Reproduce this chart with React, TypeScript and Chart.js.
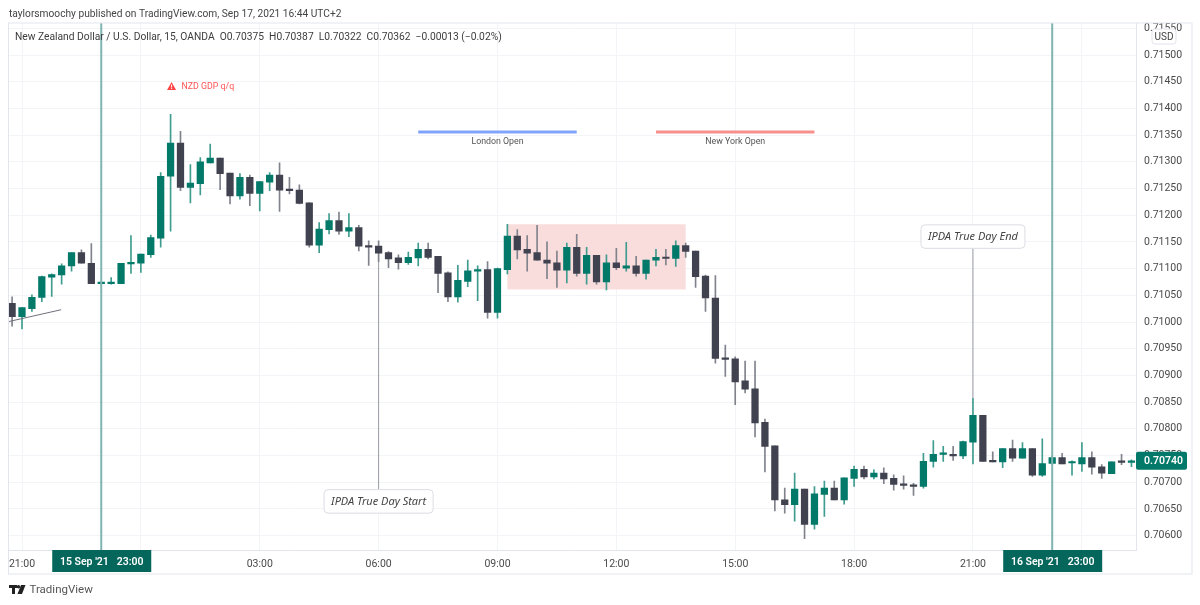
import React, { useEffect, useRef } from "react";
import { Chart, registerables } from "chart.js";

Chart.register(...registerables);

const opens = [0.71035,0.7101,0.71025,0.71046,0.71084,0.71088,0.71105,0.7113,0.7111,0.71072,0.71072,0.71072,0.71109,0.7111,0.71126,0.71157,0.71273,0.71335,0.71252,0.71259,0.71298,0.71307,0.71279,0.71236,0.71271,0.71241,0.71262,0.71275,0.71248,0.71247,0.71223,0.71144,0.71173,0.7119,0.7117,0.71177,0.71143,0.71142,0.7113,0.7112,0.71111,0.7112,0.71136,0.71123,0.71092,0.71047,0.71076,0.71095,0.71098,0.71018,0.71098,0.71161,0.71136,0.7113,0.71116,0.71111,0.71097,0.7114,0.71091,0.71125,0.71075,0.71111,0.71101,0.71105,0.71091,0.71116,0.71121,0.71119,0.71143,0.71133,0.71086,0.71045,0.70933,0.70931,0.7089,0.70875,0.70812,0.70768,0.70667,0.70658,0.70687,0.70621,0.70677,0.70689,0.70667,0.70707,0.70724,0.7071,0.70717,0.70707,0.70697,0.70695,0.70692,0.70739,0.70752,0.70752,0.70749,0.70775,0.70825,0.70741,0.70738,0.70763,0.70745,0.70763,0.70713,0.70735,0.70746,0.70736,0.70734,0.70746,0.70729,0.70716,0.70739,0.70737];
const highs = [0.71047,0.71027,0.71051,0.71086,0.7109,0.71109,0.7113,0.71135,0.71147,0.71074,0.71083,0.7111,0.71162,0.71127,0.71163,0.7128,0.71389,0.71357,0.71295,0.71308,0.71333,0.71307,0.71279,0.71278,0.71275,0.71263,0.7128,0.71298,0.71271,0.71257,0.71223,0.71186,0.71203,0.71206,0.71203,0.71181,0.71152,0.71152,0.71132,0.71126,0.71131,0.71148,0.71148,0.71123,0.71094,0.71106,0.71116,0.71105,0.71113,0.71101,0.71183,0.71173,0.71162,0.71181,0.7115,0.71133,0.71148,0.71164,0.7114,0.71125,0.71126,0.71138,0.71149,0.71123,0.71116,0.71136,0.71136,0.71152,0.71148,0.71133,0.71088,0.71087,0.70957,0.70935,0.70927,0.70927,0.70818,0.70768,0.70689,0.70717,0.70687,0.70692,0.70702,0.70702,0.70708,0.7073,0.7073,0.70723,0.70727,0.70714,0.70712,0.70698,0.70754,0.70778,0.70767,0.70767,0.70777,0.70857,0.70825,0.70757,0.70763,0.70779,0.70774,0.70763,0.70781,0.70748,0.70754,0.7074,0.70774,0.70757,0.70733,0.70738,0.70752,0.70742];
const lows = [0.70992,0.70987,0.7102,0.71038,0.71048,0.71071,0.71095,0.7111,0.71072,0.71071,0.71071,0.71072,0.71091,0.71093,0.71121,0.7114,0.7117,0.71246,0.71223,0.71238,0.71298,0.71248,0.71221,0.7123,0.71218,0.71208,0.71246,0.71207,0.7124,0.71221,0.7114,0.7113,0.71165,0.71164,0.7116,0.71133,0.71106,0.71113,0.71102,0.71099,0.71108,0.71105,0.71118,0.71055,0.71038,0.71037,0.71066,0.7104,0.71007,0.71007,0.7109,0.71118,0.71095,0.71116,0.71081,0.71065,0.71073,0.71086,0.71071,0.71071,0.7106,0.71098,0.71095,0.71086,0.7108,0.71105,0.71107,0.71104,0.71121,0.71065,0.7102,0.70923,0.70898,0.70845,0.70867,0.70785,0.70719,0.70646,0.70642,0.70627,0.70594,0.70612,0.70636,0.70667,0.70659,0.70692,0.70706,0.70706,0.70697,0.70685,0.70687,0.70675,0.70689,0.70728,0.70739,0.70741,0.70744,0.70734,0.70739,0.70738,0.70727,0.70739,0.70745,0.70711,0.70711,0.70733,0.70734,0.70713,0.7072,0.70715,0.70707,0.70716,0.70733,0.70729];
const closes = [0.7101,0.71027,0.71046,0.71085,0.71089,0.71105,0.7113,0.7111,0.71072,0.71073,0.71073,0.7111,0.71112,0.71127,0.71158,0.71273,0.71335,0.71252,0.7126,0.713,0.71307,0.71278,0.71236,0.71271,0.71241,0.71263,0.71275,0.71247,0.71246,0.71222,0.71144,0.71174,0.7119,0.7117,0.71177,0.71142,0.7114,0.71129,0.71118,0.71111,0.71121,0.71136,0.71121,0.71091,0.71047,0.71078,0.71096,0.71098,0.71018,0.711,0.71161,0.71135,0.71129,0.71116,0.7111,0.71097,0.7114,0.71091,0.71125,0.71075,0.71111,0.71102,0.71105,0.71091,0.71116,0.71121,0.71119,0.71143,0.71132,0.71085,0.71045,0.70932,0.7093,0.70888,0.70874,0.70811,0.70767,0.70667,0.70658,0.70687,0.70621,0.70678,0.70689,0.70667,0.70708,0.70724,0.7071,0.70717,0.70706,0.70696,0.70694,0.70692,0.70739,0.70752,0.70754,0.70749,0.70776,0.70825,0.70739,0.70738,0.70763,0.70745,0.70763,0.70713,0.70735,0.70746,0.70734,0.70737,0.70746,0.70728,0.70717,0.70738,0.70737,0.7074];
const firstIndex = -1;

const timeTickIndex = [0,12,24,36,48,60,72,84,96,107];
const timeTickLabels = ["21:00","","03:00","06:00","09:00","12:00","15:00","18:00","21:00",""];
const priceTicks = [0.706,0.7065,0.707,0.7075,0.708,0.7085,0.709,0.7095,0.71,0.7105,0.711,0.7115,0.712,0.7125,0.713,0.7135,0.714,0.7145,0.715,0.7155];

const crosshairIndex = [8, 104];
const crosshairLabels = ["15 Sep '21   23:00", "16 Sep '21   23:00"];
const lastPrice = 0.7074;
const boxRange = { x0: 49, x1: 67, top: 0.71183, bottom: 0.71061 };
const sessions = [
  { label: "London Open", x0: 40, x1: 56, price: 0.71356, color: "#82a3fb" },
  { label: "New York Open", x0: 64, x1: 80, price: 0.71356, color: "#f88f8c" },
];
const callouts = [
  { label: "IPDA True Day Start", index: 36, from: 0.71113, to: 0.70686, above: false },
  { label: "IPDA True Day End", index: 96, from: 0.70857, to: 0.71138, above: true },
];
const trendLine = { x0: -1.3, y0: 0.71001, x1: 3.95, y1: 0.71023 };
const eventMark = { index: 15.1, price: 0.71442, label: "NZD GDP q/q" };
const headerText = "taylorsmoochy published on TradingView.com, Sep 17, 2021 16:44 UTC+2";
const legendText = "New Zealand Dollar / U.S. Dollar, 15, OANDA  O0.70375  H0.70387  L0.70322  C0.70362  \u22120.00013 (\u22120.02%)";

const FONT = 'Roboto, sans-serif';
const ITALIC_FONT = '"Noto Sans", sans-serif';
const GREEN = "#03796a";
const DARK = "#40424f";
const TEAL_DARK = "#05665c";
const TEXT = "#4a4a4a";
const GRID = "#f3f4f7";
const AXIS = "#e3e5ee";

const annotations = {
  id: "annotations",
  beforeDatasetsDraw(chart: any) {
    const { ctx, scales: { x, y } } = chart;
    ctx.save();
    ctx.fillStyle = "#f9dcdc";
    const left = x.getPixelForValue(boxRange.x0);
    const top = y.getPixelForValue(boxRange.top);
    ctx.fillRect(left, top, x.getPixelForValue(boxRange.x1) - left, y.getPixelForValue(boxRange.bottom) - top);
    ctx.restore();
  },
  afterDatasetsDraw(chart: any) {
    const { ctx, scales: { x, y }, chartArea } = chart;
    ctx.save();
    ctx.strokeStyle = "#7fb4b0";
    ctx.lineWidth = 2;
    crosshairIndex.forEach((i) => {
      const px = x.getPixelForValue(i);
      ctx.beginPath();
      ctx.moveTo(px, chartArea.top);
      ctx.lineTo(px, chartArea.bottom);
      ctx.stroke();
    });
    ctx.strokeStyle = "#6f6f7c";
    ctx.lineWidth = 1;
    ctx.beginPath();
    ctx.moveTo(x.getPixelForValue(trendLine.x0), y.getPixelForValue(trendLine.y0));
    ctx.lineTo(x.getPixelForValue(trendLine.x1), y.getPixelForValue(trendLine.y1));
    ctx.stroke();
    sessions.forEach((s) => {
      const py = y.getPixelForValue(s.price);
      const a = x.getPixelForValue(s.x0);
      const b = x.getPixelForValue(s.x1);
      ctx.strokeStyle = s.color;
      ctx.lineWidth = 3;
      ctx.beginPath();
      ctx.moveTo(a, py);
      ctx.lineTo(b, py);
      ctx.stroke();
      ctx.fillStyle = "#555";
      ctx.font = `8.8px ${FONT}`;
      ctx.textAlign = "center";
      ctx.textBaseline = "middle";
      ctx.fillText(s.label, (a + b) / 2, py + 9.5);
    });
    callouts.forEach((c) => {
      const px = x.getPixelForValue(c.index);
      const from = y.getPixelForValue(c.from);
      const to = y.getPixelForValue(c.to);
      ctx.strokeStyle = "#9a9ca5";
      ctx.lineWidth = 1;
      ctx.beginPath();
      ctx.moveTo(px, from);
      ctx.lineTo(px, to);
      ctx.stroke();
      ctx.font = `italic 11px ${ITALIC_FONT}`;
      const w = ctx.measureText(c.label).width + 14;
      const h = 23.5;
      const bx = px - w / 2;
      const by = c.above ? to - h : to;
      ctx.fillStyle = "#fff";
      ctx.strokeStyle = "#dcdde3";
      ctx.beginPath();
      ctx.roundRect(bx, by, w, h, 4);
      ctx.fill();
      ctx.stroke();
      ctx.fillStyle = "#444";
      ctx.textAlign = "center";
      ctx.textBaseline = "middle";
      ctx.fillText(c.label, px, by + h / 2);
    });
    const ex = x.getPixelForValue(eventMark.index);
    const ey = y.getPixelForValue(eventMark.price);
    ctx.fillStyle = "#f44";
    ctx.beginPath();
    ctx.moveTo(ex - 4.5, ey + 4);
    ctx.lineTo(ex, ey - 4);
    ctx.lineTo(ex + 4.5, ey + 4);
    ctx.closePath();
    ctx.fill();
    ctx.fillStyle = "#fff";
    ctx.fillRect(ex - 0.5, ey - 1.5, 1, 3);
    ctx.fillRect(ex - 0.5, ey + 2, 1, 1);
    ctx.fillStyle = "#f55";
    ctx.font = `8.8px ${FONT}`;
    ctx.textAlign = "left";
    ctx.textBaseline = "middle";
    ctx.fillText(eventMark.label, ex + 10, ey + 0.5);
    ctx.restore();
  },
  afterDraw(chart: any) {
    const { ctx, scales: { x, y }, chartArea } = chart;
    ctx.save();
    ctx.strokeStyle = AXIS;
    ctx.lineWidth = 1;
    ctx.strokeRect(8.5, chartArea.top, 1192 - 8.5, 574 - chartArea.top);
    ctx.textBaseline = "middle";
    ctx.textAlign = "left";
    ctx.fillStyle = "#444";
    ctx.font = `10.2px ${FONT}`;
    ctx.fillText(headerText, 9, 14.5);
    ctx.font = `10.25px ${FONT}`;
    ctx.fillStyle = "#3d3d3d";
    ctx.fillText(legendText, 15, 37);
    crosshairIndex.forEach((i, n) => {
      const px = x.getPixelForValue(i);
      ctx.fillStyle = TEAL_DARK;
      ctx.fillRect(px - 49, chartArea.bottom, 99, 22);
      ctx.fillStyle = "#fff";
      ctx.font = `600 10.5px ${FONT}`;
      ctx.textAlign = "center";
      ctx.fillText(crosshairLabels[n], px + 0.5, chartArea.bottom + 12.5);
    });
    ctx.fillStyle = "#fff";
    ctx.strokeStyle = "#e0e3eb";
    ctx.beginPath();
    ctx.roundRect(1152, 29, 24, 15, 3);
    ctx.fill();
    ctx.stroke();
    ctx.fillStyle = "#444";
    ctx.font = `10px ${FONT}`;
    ctx.textAlign = "center";
    ctx.fillText("USD", 1164, 37);
    const py = y.getPixelForValue(lastPrice);
    ctx.fillStyle = GREEN;
    ctx.beginPath();
    ctx.roundRect(chartArea.right, py - 9, 51, 18, 2);
    ctx.fill();
    ctx.fillStyle = "#fff";
    ctx.font = `600 10.5px ${FONT}`;
    ctx.textAlign = "left";
    ctx.fillText(lastPrice.toFixed(5), chartArea.right + 8, py + 0.5);
    ctx.fillStyle = "#222";
    ctx.fillRect(9, 585, 8, 3);
    ctx.fillRect(12, 585, 3, 9);
    ctx.beginPath();
    ctx.arc(18.5, 586.8, 1.7, 0, Math.PI * 2);
    ctx.fill();
    ctx.beginPath();
    ctx.moveTo(17.5, 594);
    ctx.lineTo(21, 585);
    ctx.lineTo(25.5, 585);
    ctx.lineTo(22, 594);
    ctx.closePath();
    ctx.fill();
    ctx.fillStyle = "#555";
    ctx.font = `11.5px ${FONT}`;
    ctx.textAlign = "left";
    ctx.fillText("TradingView", 29.5, 590.5);
    ctx.restore();
  },
};

export default function App() {
  const ref = useRef<HTMLCanvasElement | null>(null);
  useEffect(() => {
    document.body.style.margin = "0";
    const indices = opens.map((_, i) => i + firstIndex);
    const up = opens.map((o, i) => closes[i] >= o);
    const chart = new Chart(ref.current as HTMLCanvasElement, {
      type: "bar",
      data: {
        datasets: [
          {
            label: "Body",
            data: indices.map((x, i) => ({ x, y: [opens[i], closes[i]] })) as any,
            backgroundColor: up.map((u) => (u ? GREEN : DARK)),
            barThickness: 6.6,
            minBarLength: 1.5,
            grouped: false,
            order: 1,
          },
          {
            label: "Wick",
            data: indices.map((x, i) => ({ x, y: [lows[i], highs[i]] })) as any,
            backgroundColor: up.map((u) => (u ? "#3f9c8f" : "#81838c")),
            barThickness: 1,
            grouped: false,
            order: 2,
          },
        ],
      },
      options: {
        responsive: false,
        animation: false,
        devicePixelRatio: 1,
        layout: { padding: { left: 8.5, right: 8, top: 23, bottom: 31 } },
        plugins: { legend: { display: false }, tooltip: { enabled: false } },
        scales: {
          x: {
            type: "linear",
            min: -1.363,
            max: 112.46,
            offset: false,
            grid: { color: GRID, drawTicks: false, offset: false },
            border: { color: AXIS },
            afterBuildTicks: (s: any) => {
              s.ticks = timeTickIndex.map((value) => ({ value }));
            },
            afterFit: (s: any) => {
              s.height = 24;
            },
            ticks: {
              autoSkip: false,
              maxRotation: 0,
              padding: 8,
              color: TEXT,
              font: { family: FONT, size: 10.5 },
              callback: (v: any) => timeTickLabels[timeTickIndex.indexOf(Number(v))] ?? "",
            },
          },
          y: {
            type: "linear",
            position: "right",
            min: 0.70573,
            max: 0.7156,
            grid: { color: GRID, drawTicks: false },
            border: { color: AXIS },
            afterBuildTicks: (s: any) => {
              s.ticks = priceTicks.map((value) => ({ value }));
            },
            afterFit: (s: any) => {
              s.width = 56;
            },
            ticks: {
              padding: 8,
              color: TEXT,
              font: { family: FONT, size: 10.5 },
              callback: (v: any) => Number(v).toFixed(5),
            },
          },
        },
      } as any,
      plugins: [annotations as any],
    });
    return () => chart.destroy();
  }, []);
  return <canvas ref={ref} width={1200} height={605} style={{ display: "block" }} />;
}
